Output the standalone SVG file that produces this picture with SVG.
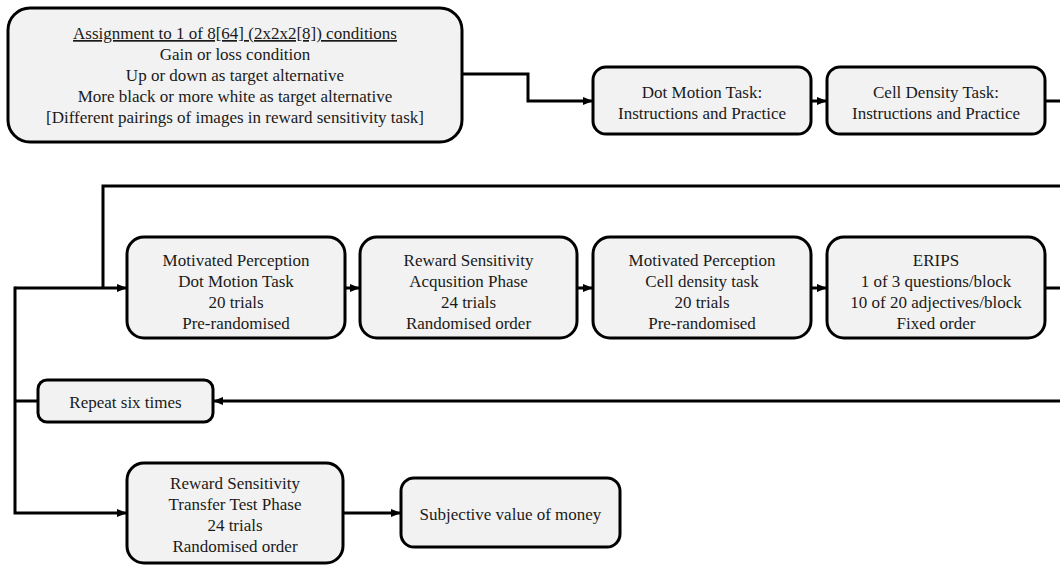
<svg xmlns="http://www.w3.org/2000/svg" width="1060" height="565" viewBox="0 0 1060 565">
<style>
.box{fill:#f2f2f2;stroke:#000;stroke-width:3}
text{font-family:'Liberation Serif','Times New Roman','DejaVu Serif',serif;font-size:17px;fill:#1a1a1a;text-anchor:middle}
.c{fill:none;stroke:#000;stroke-width:3}
</style>
<defs>
<marker id="ah" markerWidth="10" markerHeight="10" refX="9" refY="5" orient="auto" markerUnits="userSpaceOnUse">
<path d="M0,1 L10,5 L0,9 Z" fill="#000"/>
</marker>
</defs>
<rect width="1060" height="565" fill="#fff"/>
<g id="connectors">
<path class="c" d="M462,74 H528 V101 H592" marker-end="url(#ah)"/>
<path class="c" d="M811,101 H826" marker-end="url(#ah)"/>
<path class="c" d="M1045,101 H1060"/>
<path class="c" d="M1060,186 H103 V288"/>
<path class="c" d="M15,288 H126" marker-end="url(#ah)"/>
<path class="c" d="M345,288 H359" marker-end="url(#ah)"/>
<path class="c" d="M577,288 H592" marker-end="url(#ah)"/>
<path class="c" d="M811,288 H826" marker-end="url(#ah)"/>
<path class="c" d="M1045,288 H1060"/>
<path class="c" d="M1060,401 H214" marker-end="url(#ah)"/>
<path class="c" d="M15,401 H38"/>
<path class="c" d="M15,286.5 V513 H126" marker-end="url(#ah)"/>
<path class="c" d="M343,513 H400" marker-end="url(#ah)"/>
</g>
<g id="assignment" font-family="Liberation Serif">
<rect class="box" x="8" y="8" width="454" height="134" rx="22"/>
<text x="235" y="39" text-decoration="underline">Assignment to 1 of 8[64] (2x2x2[8]) conditions</text>
<text x="235" y="60">Gain or loss condition</text>
<text x="235" y="81">Up or down as target alternative</text>
<text x="235" y="102">More black or more white as target alternative</text>
<text x="235" y="123">[Different pairings of images in reward sensitivity task]</text>
</g>
<g id="dot-instructions">
<rect class="box" x="593" y="67" width="218" height="67" rx="13"/>
<text x="702" y="98">Dot Motion Task:</text>
<text x="702" y="119">Instructions and Practice</text>
</g>
<g id="cell-instructions">
<rect class="box" x="827" y="67" width="218" height="67" rx="13"/>
<text x="936" y="98">Cell Density Task:</text>
<text x="936" y="119">Instructions and Practice</text>
</g>
<g id="mp-dot">
<rect class="box" x="127" y="237" width="218" height="101" rx="17"/>
<text x="236" y="266">Motivated Perception</text>
<text x="236" y="287">Dot Motion Task</text>
<text x="236" y="308">20 trials</text>
<text x="236" y="329">Pre-randomised</text>
</g>
<g id="rs-acq">
<rect class="box" x="360" y="237" width="217" height="101" rx="17"/>
<text x="468.5" y="266">Reward Sensitivity</text>
<text x="468.5" y="287">Acqusition Phase</text>
<text x="468.5" y="308">24 trials</text>
<text x="468.5" y="329">Randomised order</text>
</g>
<g id="mp-cell">
<rect class="box" x="593" y="237" width="218" height="101" rx="17"/>
<text x="702" y="266">Motivated Perception</text>
<text x="702" y="287">Cell density task</text>
<text x="702" y="308">20 trials</text>
<text x="702" y="329">Pre-randomised</text>
</g>
<g id="erips">
<rect class="box" x="827" y="237" width="218" height="101" rx="17"/>
<text x="936" y="266">ERIPS</text>
<text x="936" y="287">1 of 3 questions/block</text>
<text x="936" y="308">10 of 20 adjectives/block</text>
<text x="936" y="329">Fixed order</text>
</g>
<g id="repeat">
<rect class="box" x="38" y="380" width="175" height="42" rx="9"/>
<text x="125.5" y="408">Repeat six times</text>
</g>
<g id="rs-transfer">
<rect class="box" x="127" y="463" width="216" height="100" rx="17"/>
<text x="235" y="489">Reward Sensitivity</text>
<text x="235" y="510">Transfer Test Phase</text>
<text x="235" y="531">24 trials</text>
<text x="235" y="552">Randomised order</text>
</g>
<g id="subjective-value">
<rect class="box" x="401" y="478" width="219" height="69" rx="13"/>
<text x="510.5" y="520">Subjective value of money</text>
</g>
</svg>
